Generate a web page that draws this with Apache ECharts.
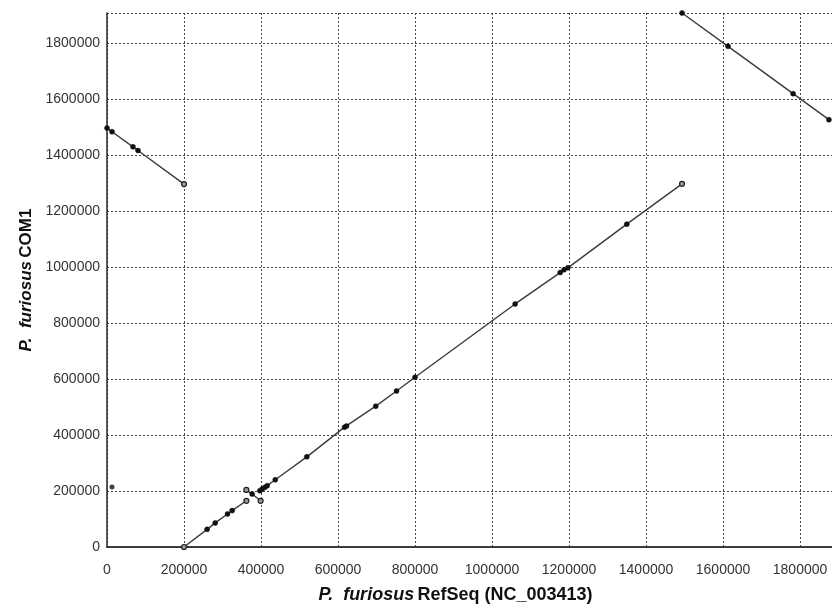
<!DOCTYPE html>
<html>
<head>
<meta charset="utf-8">
<script src="https://cdn.jsdelivr.net/npm/echarts@6/dist/echarts.min.js"></script>
<style>html,body{margin:0;padding:0;background:#fff}#c{width:832px;height:610px}</style>
</head>
<body>
<div id="c"></div>
<script>
// Segment data: [RefSeq position, COM1 position]
const segDiagA = [[200000,0],[260000,63000],[281000,86000],[313000,118000],[325000,130000],[362000,165000]];
const segInvB = [[362000,204000],[377000,189000],[399000,165000]];
const segDiagC = [[397000,201000],[403000,207000],[410000,213000],[416000,219000],[437000,240000],[519000,322000],[617000,428000],[622000,432000],[698000,503000],[752000,557000],[800000,606000],[1060000,868000],[1177000,980000],[1187000,990000],[1197000,997000],[1350000,1153000],[1493500,1297000]];
const segTopLeft = [[0,1496000],[13000,1483000],[67500,1429000],[80500,1416000],[200000,1296000]];
const segTopRight = [[1493500,1907000],[1613000,1788000],[1782000,1619000],[1875000,1526000]];
const isolated = [[13000,214000]];
const xTicks = [0,200000,400000,600000,800000,1000000,1200000,1400000,1600000,1800000];
const yTicks = [0,200000,400000,600000,800000,1000000,1200000,1400000,1600000,1800000];

const segments = [segDiagA, segInvB, segDiagC, segTopLeft, segTopRight];
const hollowEnds = [[true,true],[true,true],[false,true],[false,true],[false,false]];

function buildData(seg, ends){
  return seg.map((p,i)=>{
    const isEnd = (i===0 && ends[0]) || (i===seg.length-1 && ends[1]);
    return isEnd ? {value:p, itemStyle:{color:'#999', borderColor:'#222', borderWidth:1.2}} : {value:p};
  });
}

const series = segments.map((seg,k)=>({
  type:'line', data: buildData(seg, hollowEnds[k]), symbol:'circle', symbolSize:5,
  showSymbol:true, clip:false,
  lineStyle:{color:'#3a3a3a', width:1.4},
  itemStyle:{color:'#111', borderColor:'#111', borderWidth:0.5},
  z:5
}));
series.push({type:'scatter', data: isolated, symbol:'circle', symbolSize:5,
  itemStyle:{color:'#111'}, z:5});

const fmt = v => (xTicks.indexOf(v) >= 0) ? String(v) : '';
const fmtY = v => (yTicks.indexOf(v) >= 0) ? String(v) : '';

const chart = echarts.init(document.getElementById('c'), null, {renderer:'canvas'});
chart.setOption({
  animation:false,
  backgroundColor:'#fff',
  grid:{left:107, top:13, right:0, bottom:63},
  xAxis:[{
    type:'value', min:0, max:1883000, interval:200000,
    axisLine:{show:true, onZero:false, lineStyle:{color:'#333', width:1.6}},
    axisTick:{show:false},
    axisLabel:{formatter:fmt, color:'#333', fontSize:14, fontFamily:'Liberation Sans, Arial', margin:16, showMaxLabel:false},
    splitLine:{show:true, lineStyle:{color:'#444', type:[2,2], width:1}},
    name:'{i|P.  furiosus} {b|RefSeq (NC_003413)}',
    nameLocation:'middle', nameGap:39,
    nameTextStyle:{padding:[0,28,0,0], rich:{
      i:{fontStyle:'italic', fontWeight:'bold', fontSize:18, fontFamily:'Liberation Sans, Arial', color:'#111'},
      b:{fontWeight:'bold', fontSize:18, fontFamily:'Liberation Sans, Arial', color:'#111'}
    }}
  },{
    type:'value', position:'top', min:0, max:1883000,
    axisLine:{show:true, lineStyle:{color:'#333', width:1.6}},
    axisTick:{show:false}, axisLabel:{show:false}, splitLine:{show:false}
  }],
  yAxis:{
    type:'value', min:0, max:1907000, interval:200000,
    axisLine:{show:true, onZero:false, lineStyle:{color:'#333', width:1.6}},
    axisTick:{show:false},
    axisLabel:{formatter:fmtY, color:'#333', fontSize:14, fontFamily:'Liberation Sans, Arial', margin:7, showMaxLabel:false},
    splitLine:{show:true, lineStyle:{color:'#444', type:[2,2], width:1}},
    name:'{i|P.  furiosus} {b|COM1}',
    nameLocation:'middle', nameGap:68, nameRotate:90,
    nameTextStyle:{rich:{
      i:{fontStyle:'italic', fontWeight:'bold', fontSize:17, fontFamily:'Liberation Sans, Arial', color:'#111'},
      b:{fontWeight:'bold', fontSize:17, fontFamily:'Liberation Sans, Arial', color:'#111'}
    }}
  },
  series: series
});
</script>
</body>
</html>
